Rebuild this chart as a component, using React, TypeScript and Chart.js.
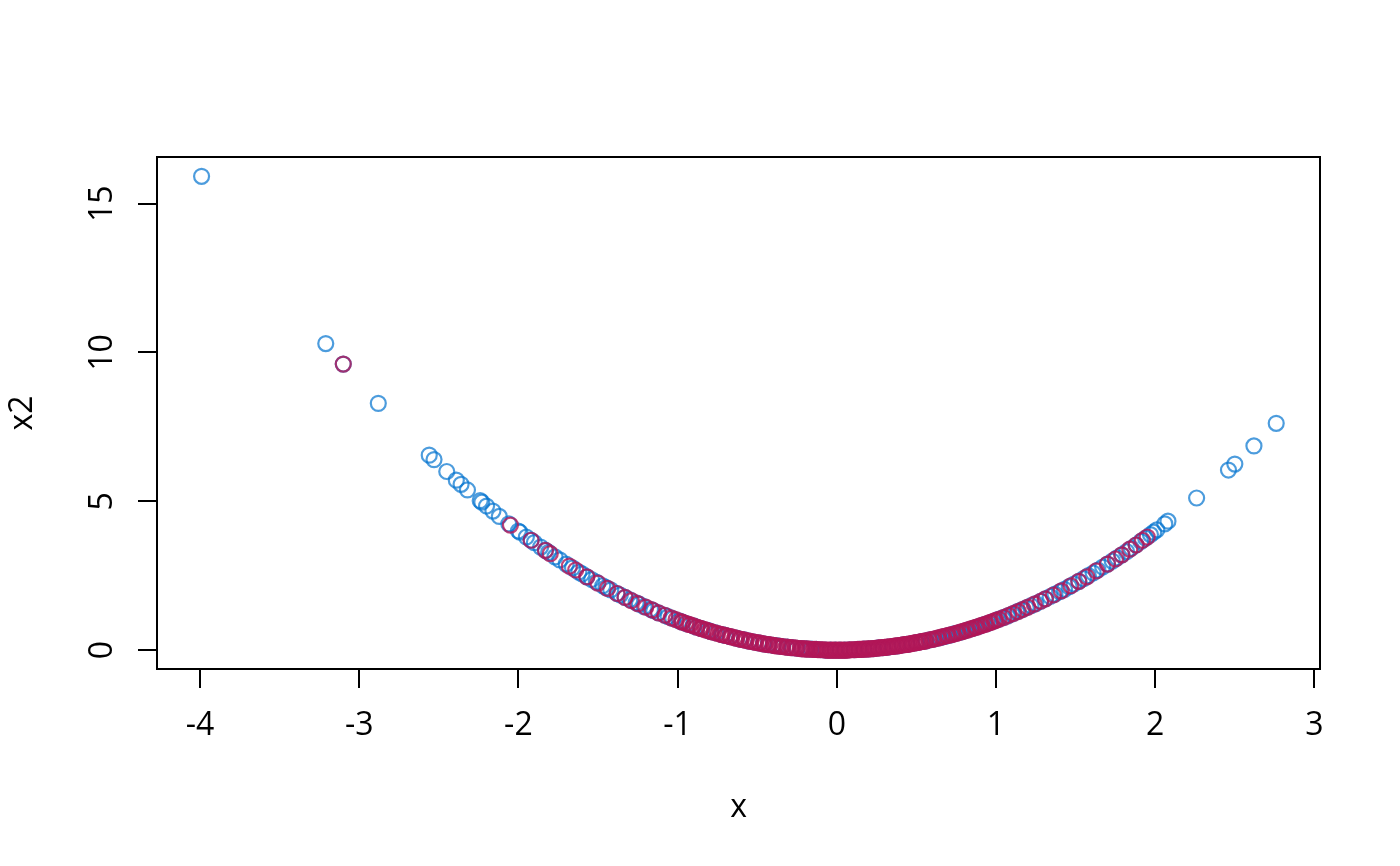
import React, { useEffect, useRef } from "react";
import { Chart, registerables } from "chart.js";

Chart.register(...registerables);

const blueX = [
  -3.99, -3.21, -3.1, -2.88, -2.56, -2.53, -2.45, -2.39, -2.36, -2.32, -2.24, -2.23, -2.2, -2.16, -2.12, -2.06,
  -2.0, -1.99, -1.95, -1.92, -1.9, -1.86, -1.83, -1.81, -1.77, -1.74, -1.7, -1.66, -1.62, -1.6, -1.57, -1.54,
  -1.51, -1.47, -1.45, -1.42, -1.38, -1.36, -1.33, -1.3, -1.26, -1.24, -1.21, -1.17, -1.15, -1.12, -1.08, -1.06,
  -1.03, -0.99, -0.97, -0.94, -0.9, -0.88, -0.85, -0.81, -0.79, -0.76, -0.72, -0.7, -0.67, -0.63, -0.61, -0.58,
  -0.55, -0.52, -0.49, -0.46, -0.43, -0.4, -0.37, -0.34, -0.31, -0.28, -0.25, -0.22, -0.19, -0.16, -0.13, -0.1,
  -0.07, -0.04, -0.01, 0.02, 0.05, 0.08, 0.11, 0.14, 0.17, 0.2, 0.23, 0.26, 0.29, 0.32, 0.35, 0.38,
  0.41, 0.44, 0.47, 0.5, 0.53, 0.56, 0.59, 0.62, 0.65, 0.68, 0.71, 0.74, 0.77, 0.8, 0.83, 0.86,
  0.89, 0.92, 0.95, 0.98, 1.01, 1.04, 1.07, 1.1, 1.13, 1.16, 1.19, 1.22, 1.25, 1.28, 1.31, 1.34,
  1.37, 1.4, 1.43, 1.46, 1.49, 1.52, 1.55, 1.58, 1.61, 1.64, 1.67, 1.7, 1.73, 1.76, 1.79, 1.82,
  1.85, 1.88, 1.91, 1.94, 1.97, 1.99, 2.01, 2.06, 2.08, 2.26, 2.46, 2.5, 2.62, 2.76,
];
const blueY = [
  15.92, 10.3, 9.61, 8.29, 6.55, 6.4, 6.0, 5.71, 5.57, 5.38, 5.02, 4.97, 4.84, 4.67, 4.49, 4.24,
  4.0, 3.96, 3.8, 3.69, 3.61, 3.46, 3.35, 3.28, 3.13, 3.03, 2.89, 2.76, 2.62, 2.56, 2.46, 2.37,
  2.28, 2.16, 2.1, 2.02, 1.9, 1.85, 1.77, 1.69, 1.59, 1.54, 1.46, 1.37, 1.32, 1.25, 1.17, 1.12,
  1.06, 0.98, 0.94, 0.88, 0.81, 0.77, 0.72, 0.66, 0.62, 0.58, 0.52, 0.49, 0.45, 0.4, 0.37, 0.34,
  0.3, 0.27, 0.24, 0.21, 0.18, 0.16, 0.14, 0.12, 0.1, 0.08, 0.06, 0.05, 0.04, 0.03, 0.02, 0.01,
  0.0, 0.0, 0.0, 0.0, 0.0, 0.01, 0.01, 0.02, 0.03, 0.04, 0.05, 0.07, 0.08, 0.1, 0.12, 0.14,
  0.17, 0.19, 0.22, 0.25, 0.28, 0.31, 0.35, 0.38, 0.42, 0.46, 0.5, 0.55, 0.59, 0.64, 0.69, 0.74,
  0.79, 0.85, 0.9, 0.96, 1.02, 1.08, 1.14, 1.21, 1.28, 1.35, 1.42, 1.49, 1.56, 1.64, 1.72, 1.8,
  1.88, 1.96, 2.04, 2.13, 2.22, 2.31, 2.4, 2.5, 2.59, 2.69, 2.79, 2.89, 2.99, 3.1, 3.2, 3.31,
  3.42, 3.53, 3.65, 3.76, 3.88, 3.96, 4.04, 4.24, 4.33, 5.11, 6.05, 6.25, 6.86, 7.62,
];

const redX = [
  -3.1, -2.05, -1.92, -1.83, -1.8, -1.68, -1.64, -1.57, -1.5, -1.44, -1.38, -1.33, -1.29, -1.25, -1.2, -1.16,
  -1.12, -1.08, -1.04, -1.01, -0.97, -0.93, -0.9, -0.86, -0.83, -0.8, -0.77, -0.73, -0.7, -0.67, -0.64, -0.61,
  -0.58, -0.55, -0.52, -0.49, -0.46, -0.43, -0.4, -0.38, -0.35, -0.32, -0.29, -0.26, -0.23, -0.2, -0.18, -0.15,
  -0.12, -0.09, -0.06, -0.04, -0.01, 0.02, 0.05, 0.08, 0.11, 0.14, 0.17, 0.2, 0.23, 0.26, 0.29, 0.32,
  0.35, 0.38, 0.41, 0.44, 0.47, 0.5, 0.53, 0.56, 0.6, 0.63, 0.66, 0.69, 0.72, 0.75, 0.78, 0.81,
  0.84, 0.87, 0.9, 0.93, 0.96, 0.99, 1.02, 1.05, 1.08, 1.11, 1.14, 1.17, 1.2, 1.24, 1.28, 1.31,
  1.36, 1.41, 1.47, 1.52, 1.57, 1.63, 1.7, 1.75, 1.79, 1.84, 1.88, 1.92, 1.95,
];
const redY = [
  9.61, 4.2, 3.69, 3.35, 3.24, 2.82, 2.69, 2.46, 2.25, 2.07, 1.9, 1.77, 1.66, 1.56, 1.44, 1.35,
  1.25, 1.17, 1.08, 1.02, 0.94, 0.86, 0.81, 0.74, 0.69, 0.64, 0.59, 0.53, 0.49, 0.45, 0.41, 0.37,
  0.34, 0.3, 0.27, 0.24, 0.21, 0.18, 0.16, 0.14, 0.12, 0.1, 0.08, 0.07, 0.05, 0.04, 0.03, 0.02,
  0.01, 0.01, 0.0, 0.0, 0.0, 0.0, 0.0, 0.01, 0.01, 0.02, 0.03, 0.04, 0.05, 0.07, 0.08, 0.1,
  0.12, 0.14, 0.17, 0.19, 0.22, 0.25, 0.28, 0.31, 0.36, 0.4, 0.44, 0.48, 0.52, 0.56, 0.61, 0.66,
  0.71, 0.76, 0.81, 0.86, 0.92, 0.98, 1.04, 1.1, 1.17, 1.23, 1.3, 1.37, 1.44, 1.54, 1.64, 1.72,
  1.85, 1.99, 2.16, 2.31, 2.46, 2.66, 2.89, 3.06, 3.2, 3.39, 3.53, 3.69, 3.8,
];

// further red points in the crowded centre of the curve
const redCoreX = [
  -0.98, -0.95, -0.92, -0.88, -0.85, -0.82, -0.79, -0.75, -0.72, -0.69, -0.66, -0.63, -0.6, -0.57, -0.54, -0.51,
  -0.48, -0.45, -0.42, -0.39, -0.36, -0.34, -0.31, -0.28, -0.25, -0.22, -0.21, -0.19, -0.17, -0.14, -0.13, -0.11,
  -0.1, -0.08, -0.07, -0.05, -0.03, -0.02, 0.0, 0.01, 0.03, 0.04, 0.06, 0.07, 0.09, 0.1, 0.12, 0.13,
  0.15, 0.16, 0.18, 0.19, 0.21, 0.22, 0.24, 0.25, 0.27, 0.28, 0.3, 0.31, 0.33, 0.34, 0.36, 0.37,
  0.39, 0.4, 0.42, 0.43, 0.45, 0.46, 0.48, 0.49, 0.51, 0.52, 0.54, 0.55, 0.58, 0.61, 0.64, 0.67,
  0.7, 0.73, 0.76, 0.79, 0.82, 0.85, 0.88, 0.91, 0.94, 0.97, 1.0,
];
const redCoreY = [
  0.96, 0.9, 0.85, 0.77, 0.72, 0.67, 0.62, 0.56, 0.52, 0.48, 0.44, 0.4, 0.36, 0.32, 0.29, 0.26,
  0.23, 0.2, 0.18, 0.15, 0.13, 0.12, 0.1, 0.08, 0.06, 0.05, 0.04, 0.04, 0.03, 0.02, 0.02, 0.01,
  0.01, 0.01, 0.0, 0.0, 0.0, 0.0, 0.0, 0.0, 0.0, 0.0, 0.0, 0.0, 0.01, 0.01, 0.01, 0.02,
  0.02, 0.03, 0.03, 0.04, 0.04, 0.05, 0.06, 0.06, 0.07, 0.08, 0.09, 0.1, 0.11, 0.12, 0.13, 0.14,
  0.15, 0.16, 0.18, 0.18, 0.2, 0.21, 0.23, 0.24, 0.26, 0.27, 0.29, 0.3, 0.34, 0.37, 0.41, 0.45,
  0.49, 0.53, 0.58, 0.62, 0.67, 0.72, 0.77, 0.83, 0.88, 0.94, 1.0,
];

const xTicks = [-4, -3, -2, -1, 0, 1, 2, 3];
const yTicks = [0, 5, 10, 15];
const xLabel = "x";
const yLabel = "x2";

const FONT = "'Open Sans', 'Noto Sans', 'DejaVu Sans', sans-serif";

const pairs = (xs: number[], ys: number[]) => xs.map((x, i) => ({ x, y: ys[i] }));

export default function App() {
  const ref = useRef<HTMLCanvasElement | null>(null);

  useEffect(() => {
    const canvas = ref.current;
    if (!canvas) return;

    const framePlugin = {
      id: "rframe",
      afterDraw(chart: any) {
        const { ctx, chartArea } = chart;
        const ys = chart.scales.y;
        ctx.save();
        ctx.strokeStyle = "#000";
        ctx.lineWidth = 2;
        ctx.strokeRect(chartArea.left, chartArea.top, chartArea.right - chartArea.left, chartArea.bottom - chartArea.top);
        ctx.fillStyle = "#000";
        ctx.font = `32px ${FONT}`;
        ctx.textAlign = "center";
        ctx.textBaseline = "alphabetic";
        yTicks.forEach((v) => {
          const py = ys.getPixelForValue(v);
          ctx.save();
          ctx.translate(112, py);
          ctx.rotate(-Math.PI / 2);
          ctx.fillText(String(v), 0, 0);
          ctx.restore();
        });
        ctx.restore();
      },
    };

    const chart = new Chart(canvas, {
      type: "scatter",
      data: {
        datasets: [
          {
            label: "blue",
            order: 2,
            data: pairs(blueX, blueY),
            pointStyle: "circle",
            pointRadius: 7.5,
            pointBorderWidth: 2.2,
            pointBackgroundColor: "rgba(0,0,0,0)",
            pointBorderColor: "rgba(0,114,206,0.7)",
          },
          {
            label: "red",
            order: 1,
            data: pairs(redX, redY).concat(pairs(redCoreX, redCoreY)),
            pointStyle: "circle",
            pointRadius: 7.5,
            pointBorderWidth: 2.2,
            pointBackgroundColor: "rgba(0,0,0,0)",
            pointBorderColor: "rgba(178,22,88,0.8)",
          },
        ],
      },
      options: {
        animation: false,
        responsive: false,
        devicePixelRatio: 1,
        layout: { padding: { top: 157, right: 80, left: 0, bottom: 0 } },
        plugins: { legend: { display: false }, tooltip: { enabled: false } },
        scales: {
          x: {
            type: "linear",
            position: "bottom",
            min: -4.27,
            max: 3.035,
            afterBuildTicks: (s: any) => {
              s.ticks = xTicks.map((v) => ({ value: v }));
            },
            afterFit: (s: any) => {
              s.height = 197;
            },
            grid: { drawOnChartArea: false, drawTicks: true, tickLength: 19, color: "#000", lineWidth: 2 },
            border: { display: false },
            ticks: {
              color: "#000",
              font: { family: FONT, size: 32 },
              padding: 19,
              maxRotation: 0,
              autoSkip: false,
              callback: (v: any) => String(v),
            },
            title: {
              display: true,
              text: xLabel,
              color: "#000",
              font: { family: FONT, size: 32 },
              padding: { top: 0, bottom: 39 },
            },
          },
          y: {
            type: "linear",
            position: "left",
            min: -0.637,
            max: 16.57,
            afterBuildTicks: (s: any) => {
              s.ticks = yTicks.map((v) => ({ value: v }));
            },
            afterFit: (s: any) => {
              s.width = 157;
            },
            grid: { drawOnChartArea: false, drawTicks: true, tickLength: 19, color: "#000", lineWidth: 2 },
            border: { display: false },
            ticks: { display: false },
            title: {
              display: true,
              text: yLabel,
              color: "#000",
              font: { family: FONT, size: 32 },
              padding: { top: 4, bottom: 0 },
            },
          },
        },
      },
      plugins: [framePlugin],
    });

    return () => chart.destroy();
  }, []);

  return (
    <div style={{ position: "absolute", left: 0, top: 0, width: 1400, height: 866, background: "#fff" }}>
      <canvas ref={ref} width={1400} height={866} style={{ width: 1400, height: 866, display: "block" }} />
    </div>
  );
}
